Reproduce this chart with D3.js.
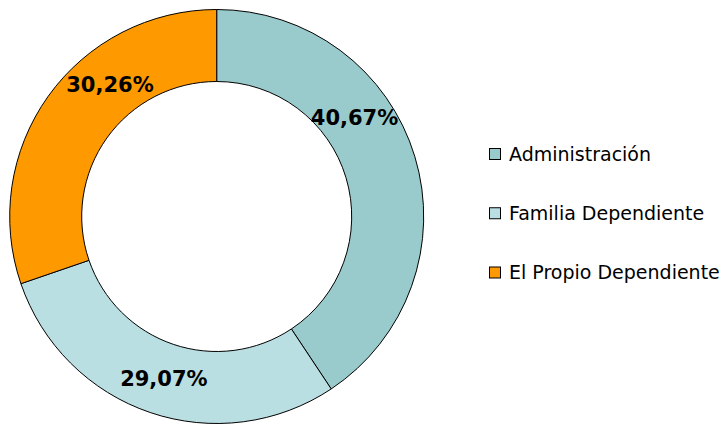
<!DOCTYPE html>
<html>
<head>
<meta charset="utf-8">
<script src="https://cdn.jsdelivr.net/npm/d3@7"></script>
<style>
  html, body { margin: 0; padding: 0; background: #fff; }
  svg { display: block; }
</style>
</head>
<body>
<svg id="chart" width="727" height="424"></svg>
<script>
// ---- data ----
const categories = ["Administración", "Familia Dependiente", "El Propio Dependiente"];
const values = [40.67, 29.07, 30.26];
const valueLabels = ["40,67%", "29,07%", "30,26%"];
const colors = ["#9ACBCC", "#BADFE2", "#FF9900"];

// ---- layout ----
const W = 727, H = 424;
const cx = 216.7, cy = 216.5;
const outerR = 207, innerR = 135;
const labelR = 170;
const labelFrac = [0.37, 0.494, 0.643]; // where along each slice the label sits

const svg = d3.select("#chart");
const g = svg.append("g").attr("transform", `translate(${cx},${cy})`);

const pie = d3.pie().value(d => d).sort(null);
const arcs = pie(values);
const arc = d3.arc().innerRadius(innerR).outerRadius(outerR);

g.selectAll("path.slice")
  .data(arcs)
  .join("path")
  .attr("class", "slice")
  .attr("d", arc)
  .attr("fill", (d, i) => colors[i])
  .attr("stroke", "#000")
  .attr("stroke-width", 1);

g.selectAll("text.lbl")
  .data(arcs)
  .join("text")
  .attr("class", "lbl")
  .attr("x", (d, i) => {
    const a = d.startAngle + (d.endAngle - d.startAngle) * labelFrac[i];
    return labelR * Math.sin(a);
  })
  .attr("y", (d, i) => {
    const a = d.startAngle + (d.endAngle - d.startAngle) * labelFrac[i];
    return -labelR * Math.cos(a);
  })
  .attr("text-anchor", "middle")
  .attr("dy", "0.36em")
  .attr("font-family", "'DejaVu Sans', Verdana, sans-serif")
  .attr("font-weight", "bold")
  .attr("font-size", 21)
  .attr("fill", "#000")
  .text((d, i) => valueLabels[i]);

// ---- legend ----
const legendY = d3.scalePoint().domain(categories).range([154, 272.5]);
const leg = svg.append("g");
const items = leg.selectAll("g").data(categories).join("g")
  .attr("transform", d => `translate(489,${legendY(d)})`);
items.append("rect")
  .attr("x", 0.5).attr("y", -5.5)
  .attr("width", 11).attr("height", 11)
  .attr("fill", (d, i) => colors[i])
  .attr("stroke", "#000").attr("stroke-width", 1);
items.append("text")
  .attr("x", 20).attr("y", 6.5)
  .attr("font-family", "'DejaVu Sans', Verdana, sans-serif")
  .attr("font-size", 19)
  .attr("fill", "#000")
  .text(d => d);
</script>
</body>
</html>
